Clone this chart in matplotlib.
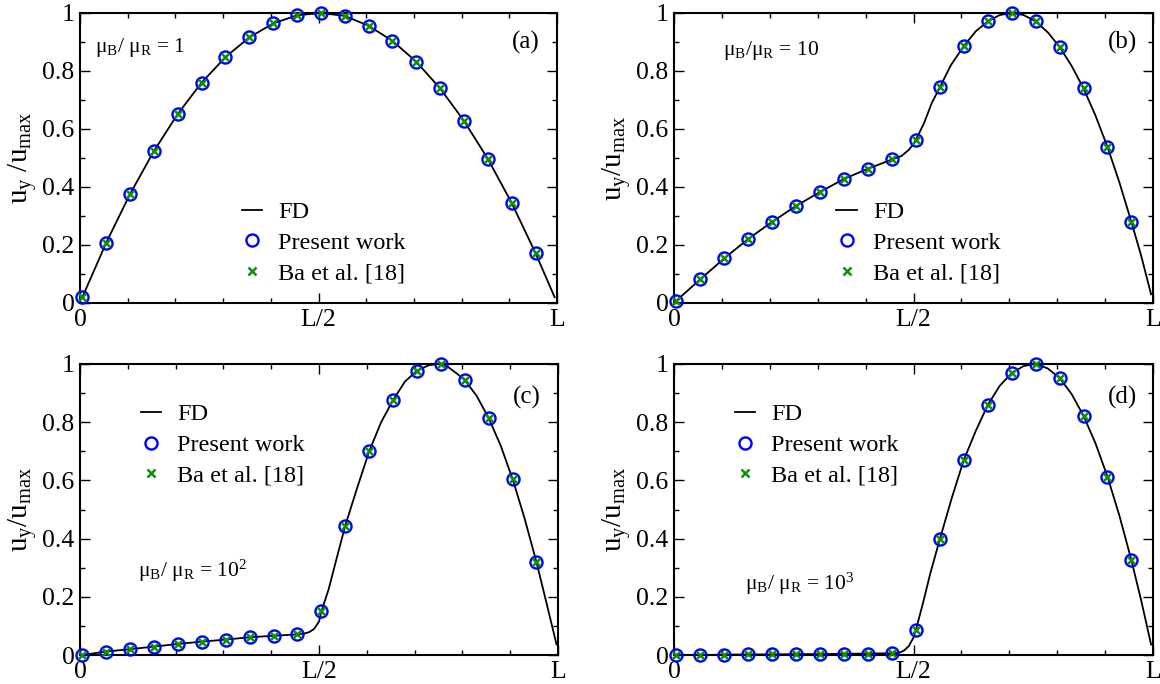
import matplotlib
matplotlib.use("Agg")
import matplotlib.pyplot as plt
from matplotlib.ticker import MultipleLocator, FixedLocator, FixedFormatter

plt.rcParams['font.family'] = ['Liberation Serif', 'DejaVu Serif']
plt.rcParams['mathtext.fontset'] = 'custom'
plt.rcParams['mathtext.rm'] = 'Liberation Serif'
plt.rcParams['mathtext.it'] = 'Liberation Serif'
plt.rcParams['mathtext.default'] = 'regular'

# ---------------- data ----------------
x_pts = [0.005, 0.055, 0.105, 0.155, 0.205, 0.255, 0.305, 0.355, 0.405, 0.455,
         0.505, 0.555, 0.605, 0.655, 0.705, 0.755, 0.805, 0.855, 0.905, 0.955]

# (a) mu_B/mu_R = 1
pw_a = [0.020, 0.208, 0.376, 0.524, 0.652, 0.760, 0.848, 0.916, 0.964, 0.992,
        1.000, 0.990, 0.956, 0.904, 0.832, 0.740, 0.628, 0.497, 0.345, 0.172]
ba_a = list(pw_a)
fd_x_a = x_pts + [0.995]
fd_y_a = pw_a + [0.020]

# (b) mu_B/mu_R = 10
pw_b = [0.008, 0.082, 0.154, 0.221, 0.280, 0.335, 0.383, 0.428, 0.463, 0.495,
        0.563, 0.744, 0.886, 0.971, 1.000, 0.971, 0.883, 0.740, 0.538, 0.279]
ba_b = list(pw_b)
fd_x_b = [0.005, 0.055, 0.105, 0.155, 0.205, 0.255, 0.305, 0.355, 0.405, 0.455,
          0.475, 0.490, 0.500, 0.505, 0.522, 0.538, 0.555, 0.578, 0.605, 0.630,
          0.655, 0.680, 0.705, 0.730, 0.755, 0.780, 0.805, 0.830, 0.855, 0.880,
          0.905, 0.930, 0.955, 0.975, 0.996]
fd_y_b = [0.008, 0.082, 0.154, 0.221, 0.280, 0.335, 0.383, 0.428, 0.463, 0.495,
          0.507, 0.528, 0.548, 0.563, 0.620, 0.689, 0.744, 0.820, 0.886, 0.937,
          0.971, 0.993, 1.000, 0.993, 0.971, 0.934, 0.883, 0.818, 0.740, 0.646,
          0.538, 0.415, 0.279, 0.165, 0.030]

# (c) mu_B/mu_R = 10^2
pw_c = [0.000, 0.012, 0.020, 0.029, 0.038, 0.046, 0.053, 0.061, 0.066, 0.071,
        0.150, 0.445, 0.700, 0.876, 0.977, 1.000, 0.945, 0.814, 0.605, 0.319]
ba_c = list(pw_c)
fd_x_c = [0.005, 0.055, 0.105, 0.155, 0.205, 0.255, 0.305, 0.355, 0.405, 0.455,
          0.470, 0.480, 0.490, 0.500, 0.505, 0.520, 0.535, 0.555, 0.580, 0.605,
          0.630, 0.655, 0.680, 0.705, 0.730, 0.750, 0.770, 0.790, 0.805, 0.830,
          0.855, 0.880, 0.905, 0.930, 0.955, 0.975, 0.997]
fd_y_c = [0.000, 0.012, 0.020, 0.029, 0.038, 0.046, 0.053, 0.061, 0.066, 0.071,
          0.074, 0.079, 0.090, 0.115, 0.150, 0.225, 0.320, 0.445, 0.575, 0.700,
          0.800, 0.876, 0.940, 0.977, 0.996, 1.000, 0.990, 0.965, 0.945, 0.890,
          0.814, 0.720, 0.605, 0.470, 0.319, 0.185, 0.036]

# (d) mu_B/mu_R = 10^3
pw_d = [0.000, 0.000, 0.001, 0.002, 0.002, 0.003, 0.003, 0.004, 0.005, 0.006,
        0.086, 0.398, 0.670, 0.859, 0.969, 1.000, 0.952, 0.822, 0.613, 0.325]
ba_d = list(pw_d)
fd_x_d = [0.005, 0.055, 0.105, 0.155, 0.205, 0.255, 0.305, 0.355, 0.405, 0.455,
          0.470, 0.480, 0.490, 0.500, 0.505, 0.520, 0.535, 0.555, 0.580, 0.605,
          0.630, 0.655, 0.680, 0.705, 0.730, 0.755, 0.780, 0.805, 0.830, 0.855,
          0.880, 0.905, 0.930, 0.955, 0.975, 0.996]
fd_y_d = [0.000, 0.000, 0.001, 0.002, 0.002, 0.003, 0.003, 0.004, 0.005, 0.006,
          0.008, 0.015, 0.030, 0.060, 0.086, 0.180, 0.280, 0.398, 0.540, 0.670,
          0.770, 0.859, 0.925, 0.969, 0.993, 1.000, 0.985, 0.952, 0.897, 0.822,
          0.727, 0.613, 0.478, 0.325, 0.190, 0.036]

xtick_pos = [0.0, 0.5, 1.0]
xtick_labels = ['0', 'L/2', 'L']
ytick_pos = [0, 0.2, 0.4, 0.6, 0.8, 1.0]
ytick_labels = ['0', '0.2', '0.4', '0.6', '0.8', '1']

ratio_texts = ['μ$_B$/ μ$_R$ = 1', 'μ$_B$/μ$_R$ = 10',
               'μ$_B$/ μ$_R$ = 10$^2$', 'μ$_B$/ μ$_R$ = 10$^3$']
panel_tags = ['(a)', '(b)', '(c)', '(d)']
ylabels = ['u$_y$ /u$_{max}$', 'u$_y$/u$_{max}$', 'u$_y$/u$_{max}$', 'u$_y$/u$_{max}$']

panels = [
    (fd_x_a, fd_y_a, pw_a, ba_a),
    (fd_x_b, fd_y_b, pw_b, ba_b),
    (fd_x_c, fd_y_c, pw_c, ba_c),
    (fd_x_d, fd_y_d, pw_d, ba_d),
]

# layout (figure fractions)
W, H = 1160, 684
boxes = [
    (80, 13, 557, 303),
    (674, 13, 1153, 303),
    (80, 364, 558, 655),
    (674, 364, 1153, 655),
]
ratio_pos = [(0.031, 0.88), (0.103, 0.872), (0.122, 0.29), (0.148, 0.245)]
tag_pos = [(0.935, 0.9), (0.937, 0.9), (0.935, 0.885), (0.937, 0.885)]
legend_anchor = [(0.339, 0.207), (0.339, 0.207), (0.127, 0.721), (0.127, 0.721)]

fig = plt.figure(figsize=(W / 100, H / 100), dpi=100)
GREEN = '#0f8f0f'
BLUE = '#0000ff'

for i, (fx, fy, pw, ba) in enumerate(panels):
    l, t, r, b = boxes[i]
    ax = fig.add_axes([l / W, 1 - b / H, (r - l) / W, (b - t) / H])
    ax.plot(fx, fy, color='black', lw=1.3, label='FD', zorder=2)
    ax.plot(x_pts, pw, ls='none', marker='o', ms=8.7, mfc='none', mec=BLUE,
            mew=1.7, label='Present work', clip_on=False, zorder=3)
    ax.plot(x_pts, ba, ls='none', marker='x', ms=6, mec=GREEN, mew=1.8,
            label='Ba et al. [18]', clip_on=False, zorder=4)
    ax.set_xlim(0, 1)
    ax.set_ylim(0, 1)
    ax.xaxis.set_major_locator(FixedLocator(xtick_pos))
    ax.xaxis.set_major_formatter(FixedFormatter(xtick_labels))
    ax.xaxis.set_minor_locator(MultipleLocator(0.1))
    ax.yaxis.set_major_locator(FixedLocator(ytick_pos))
    ax.yaxis.set_major_formatter(FixedFormatter(ytick_labels))
    ax.yaxis.set_minor_locator(MultipleLocator(0.1))
    ax.tick_params(which='both', direction='in', top=True, right=True,
                   labelsize=18.5, width=1.0)
    ax.tick_params(which='major', length=7, pad=4)
    ax.tick_params(which='minor', length=3.5)
    for s in ax.spines.values():
        s.set_linewidth(1.5)
    ax.set_ylabel(ylabels[i], fontsize=21)
    ax.yaxis.set_label_coords(-0.086, 0.5)
    ax.text(ratio_pos[i][0], ratio_pos[i][1], ratio_texts[i], transform=ax.transAxes,
            fontsize=15.5, ha='left', va='center')
    ax.text(tag_pos[i][0], tag_pos[i][1], panel_tags[i], transform=ax.transAxes,
            fontsize=18, ha='center', va='center')
    ax.legend(loc='center left', bbox_to_anchor=legend_anchor[i], frameon=False,
              fontsize=17.5, borderpad=0, borderaxespad=0, handlelength=0.85,
              handletextpad=0.65, labelspacing=0.36, markerscale=1.0)

fig.savefig('out.png', dpi=100)
